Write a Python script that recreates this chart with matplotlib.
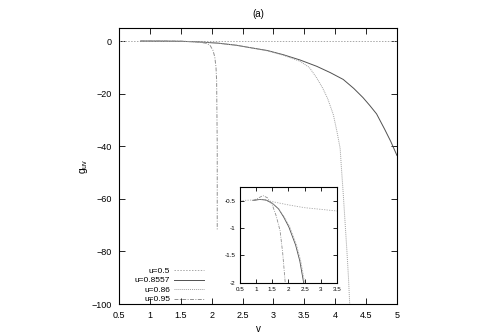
import numpy as np
import matplotlib
matplotlib.use("Agg")
import matplotlib.pyplot as plt

plt.rcParams['font.family'] = ['Liberation Sans', 'DejaVu Sans']
plt.rcParams['mathtext.fontset'] = 'custom'
plt.rcParams['mathtext.rm'] = 'Liberation Sans'
plt.rcParams['mathtext.it'] = 'Liberation Sans'

# ---- main panel data ----
labels = ["u=0.5", "u=0.8557", "u=0.86", "u=0.95"]

v_05 = [0.5, 5.0]
g_05 = [0.0, 0.0]

v_08557 = [0.85, 1.2, 1.5, 1.8, 2.1, 2.4, 2.62, 2.9, 3.16, 3.43, 3.7, 3.92,
           4.13, 4.3, 4.45, 4.56, 4.67, 4.8, 4.9, 5.0]
g_08557 = [0.0, -0.02, -0.1, -0.35, -0.8, -1.6, -2.5, -3.6, -5.2, -7.2, -9.6, -12.0,
           -14.6, -18.0, -21.5, -24.5, -27.7, -33.5, -38.2, -43.5]

v_086 = [0.85, 1.2, 1.5, 1.8, 2.1, 2.4, 2.62, 2.9, 3.16, 3.43, 3.58, 3.7, 3.8,
         3.88, 3.97, 4.03, 4.08, 4.1, 4.13, 4.16, 4.19, 4.215, 4.235]
g_086 = [0.0, -0.02, -0.1, -0.35, -0.8, -1.6, -2.5, -3.7, -5.4, -7.7, -10.0, -14.0, -18.0,
         -22.0, -28.0, -34.6, -40.8, -48.0, -58.0, -69.0, -80.0, -90.0, -100.0]

v_095 = [0.85, 1.2, 1.5, 1.75, 1.9, 1.97, 2.02, 2.05, 2.07, 2.08, 2.09, 2.09]
g_095 = [0.0, 0.0, -0.05, -0.3, -0.8, -1.5, -3.5, -6.0, -10.0, -15.0, -40.0, -72.0]

# ---- inset data ----
iv_05 = [0.5, 0.9, 1.2, 1.5, 2.0, 2.5, 3.0, 3.5]
ig_05 = [-0.5, -0.49, -0.48, -0.52, -0.58, -0.63, -0.66, -0.69]

iv_08557 = [0.9, 1.1, 1.3, 1.5, 1.69, 1.85, 2.01, 2.22, 2.35, 2.47]
ig_08557 = [-0.5, -0.48, -0.49, -0.55, -0.65, -0.8, -0.98, -1.31, -1.6, -2.0]

iv_086 = [0.9, 1.1, 1.3, 1.5, 1.7, 1.87, 2.04, 2.25, 2.38, 2.5]
ig_086 = [-0.5, -0.48, -0.49, -0.55, -0.65, -0.8, -0.98, -1.31, -1.6, -2.0]

iv_095 = [0.9, 1.05, 1.21, 1.35, 1.5, 1.62, 1.74, 1.82, 1.9]
ig_095 = [-0.5, -0.46, -0.41, -0.45, -0.58, -0.78, -1.05, -1.45, -2.0]

c_05 = "#a8a8a8"
c_08557 = "#505050"
c_086 = "#a0a0a0"
c_095 = "#909090"

fig = plt.figure(figsize=(4.8, 3.36), dpi=100)
ax = fig.add_axes([0.248, 0.095, 0.579, 0.822])

ax.plot(v_05, g_05, color=c_05, lw=0.7, ls=(0, (1.5, 1.5)), label=labels[0])
ax.plot(v_08557, g_08557, color=c_08557, lw=0.7, ls="-", label=labels[1])
ax.plot(v_086, g_086, color=c_086, lw=0.7, ls=(0, (1, 1)), label=labels[2])
ax.plot(v_095, g_095, color=c_095, lw=0.7, ls=(0, (4, 1.5, 1, 1.5)), label=labels[3])

ax.set_xlim(0.5, 5)
ax.set_ylim(-100, 5)
ax.set_xticks(np.arange(0.5, 5.01, 0.5))
ax.set_xticklabels(["0.5", "1", "1.5", "2", "2.5", "3", "3.5", "4", "4.5", "5"])
ax.set_yticks([0, -20, -40, -60, -80, -100])
ax.tick_params(direction="in", top=True, right=True, length=4, width=0.6,
               labelsize=6.5, colors="black", pad=5)
for s in ax.spines.values():
    s.set_linewidth(0.8)

ax.set_title("(a)", fontsize=7, pad=8)
ax.set_xlabel("v", fontsize=7, labelpad=3)
ax.set_ylabel(r"g$_{uv}$", fontsize=7.5, labelpad=1)

leg = ax.legend(loc="lower left", bbox_to_anchor=(0.03, -0.025), frameon=False,
                markerfirst=False, fontsize=6, handlelength=3.6,
                labelspacing=0.2, borderpad=0.4, handletextpad=0.5)
for t in leg.get_texts():
    t.set_ha("right")
leg._legend_box.align = "right"

# ---- inset ----
ins = fig.add_axes([0.5, 0.158, 0.202, 0.286])
ins.plot(iv_05, ig_05, color=c_05, lw=0.6, ls=(0, (1.5, 1.5)))
ins.plot(iv_08557, ig_08557, color=c_08557, lw=0.6, ls="-")
ins.plot(iv_086, ig_086, color=c_086, lw=0.6, ls=(0, (1, 1)))
ins.plot(iv_095, ig_095, color=c_095, lw=0.6, ls=(0, (4, 1.5, 1, 1.5)))
ins.set_xlim(0.5, 3.5)
ins.set_ylim(-2, -0.25)
ins.set_xticks(np.arange(0.5, 3.51, 0.5))
ins.set_xticklabels(["0.5", "1", "1.5", "2", "2.5", "3", "3.5"])
ins.set_yticks([-0.5, -1, -1.5, -2])
ins.set_yticklabels(["-0.5", "-1", "-1.5", "-2"])
ins.tick_params(direction="in", top=True, right=True, length=3, width=0.6,
                labelsize=4.5, pad=3)
for s in ins.spines.values():
    s.set_linewidth(0.8)

fig.savefig("out.png", dpi=100)
